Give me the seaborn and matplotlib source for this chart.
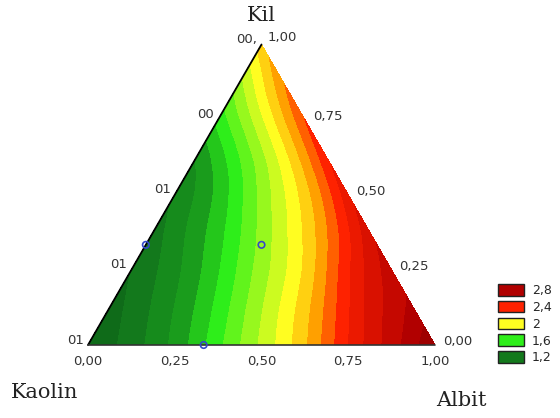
import numpy as np
import matplotlib
matplotlib.use("Agg")
import matplotlib.pyplot as plt
import matplotlib.tri as mtri
from matplotlib.colors import LinearSegmentedColormap
from matplotlib.patches import Patch
import seaborn as sns

# ---- data: ternary lattice rows of constant Kil
# (Albit runs along each row, Kaolin = 1 - Albit - Kil)
kil_rows = [0, .125, .25, .375, .5, .625, .75, .875, 1]
row_values = [
    [1.05, 1.20, 1.38, 1.62, 1.87, 2.13, 2.45, 2.70, 2.95],
    [1.10, 1.26, 1.46, 1.71, 1.97, 2.27, 2.58, 2.78],
    [1.15, 1.32, 1.54, 1.80, 2.07, 2.43, 2.70],
    [1.20, 1.40, 1.64, 1.92, 2.24, 2.62],
    [1.26, 1.48, 1.78, 2.10, 2.52],
    [1.36, 1.65, 2.00, 2.43],
    [1.58, 1.93, 2.35],
    [1.82, 2.24],
    [2.10],
]
step = 0.125

design_albit = [0, 1 / 3, 1 / 3]
design_kil = [1 / 3, 1 / 3, 0]

tick_fracs = [0, .25, .5, .75, 1]
bottom_ticks = ["0,00", "0,25", "0,50", "0,75", "1,00"]
right_ticks = ["0,00", "0,25", "0,50", "0,75", "1,00"]
left_ticks = ["01", "01", "01", "00", "00,"]

legend_labels = ["2,8", "2,4", "2", "1,6", "1,2"]
legend_levels = [2.8, 2.4, 2.0, 1.6, 1.2]

# ---- build lattice table
albit, kil, value = [], [], []
for k, vals in zip(kil_rows, row_values):
    for i, v in enumerate(vals):
        albit.append(i * step)
        kil.append(k)
        value.append(v)

# ---- styling
sns.set_style("white")
plt.rcParams["font.family"] = ["DejaVu Sans"]

cmap = LinearSegmentedColormap.from_list(
    "kaolin",
    [(0.0, "#0c5e16"), (0.1, "#137a1c"), (0.2, "#1a9c1c"), (0.3, "#2ef01a"),
     (0.5, "#ffff22"), (0.6, "#ffa000"), (0.7, "#ff2200"), (0.9, "#b20000"),
     (1.0, "#8c0000")])
vmin, vmax = 1.0, 3.0
levels = np.arange(0.95, 3.06, 0.1)

S3 = np.sqrt(3) / 2


def tx(a, k):
    return np.asarray(a) + np.asarray(k) / 2


def ty(k):
    return np.asarray(k) * S3


fig = plt.figure(figsize=(5.6, 4.18), dpi=100)
ax = fig.add_axes([0, 0, 1, 1])
scale = 347.0
ax.set_xlim(-88 / scale, (560 - 88) / scale)
ax.set_ylim(-73 / scale, (418 - 73) / scale)
ax.axis("off")

tri = mtri.Triangulation(tx(albit, kil), ty(kil))
refiner = mtri.UniformTriRefiner(tri)
tri_f, val_f = refiner.refine_field(np.asarray(value, float), subdiv=4)
ax.tricontourf(tri_f, val_f, levels=levels, cmap=cmap, vmin=vmin, vmax=vmax,
               extend="both")

# triangle edges
ax.plot([0, 0.5], [0, S3], color="black", lw=1.3, solid_capstyle="round")
ax.plot([0, 1], [0, 0], color="#333333", lw=1.2)

# design points
sns.scatterplot(x=tx(design_albit, design_kil), y=ty(design_kil), ax=ax,
                marker="o", s=22, facecolor="none", edgecolor="#3548c8",
                linewidth=1.2, zorder=5, legend=False)

tick_kw = dict(fontsize=9.5, color="#333333", textcoords="offset pixels",
               va="center")
for t, lab in zip(tick_fracs, bottom_ticks):
    ax.annotate(lab, (t, 0), xytext=(0, -16), ha="center", **tick_kw)
for t, lab in zip(tick_fracs, right_ticks):
    off = (6, 7) if t == 1 else (8, 3)
    ax.annotate(lab, (1 - t / 2, t * S3), xytext=off, ha="left", **tick_kw)
for t, lab in zip(tick_fracs, left_ticks):
    ax.annotate(lab, (t / 2, t * S3), xytext=(-4, 5), ha="right", **tick_kw)

serif = ["DejaVu Serif"]
ax.annotate("Kil", (0.5, S3), xytext=(0, 29), textcoords="offset pixels",
            ha="center", va="center", fontsize=15, family=serif, color="#222222")
ax.annotate("Kaolin", (0, 0), xytext=(-43, -47), textcoords="offset pixels",
            ha="center", va="center", fontsize=15, family=serif, color="#222222")
ax.annotate("Albit", (1, 0), xytext=(26, -55), textcoords="offset pixels",
            ha="center", va="center", fontsize=15, family=serif, color="#222222")

norm = plt.Normalize(vmin, vmax)
handles = [Patch(facecolor=cmap(norm(v)), edgecolor="#222222", linewidth=1)
           for v in legend_levels]
fig.legend(handles, legend_labels, loc="upper left",
           bbox_to_anchor=(498 / 560, 1 - 284 / 418), frameon=False,
           fontsize=9, handlelength=2.1, handleheight=1.05,
           handletextpad=0.6, labelspacing=0.3, borderpad=0, borderaxespad=0)

fig.savefig("out.png", dpi=100)
